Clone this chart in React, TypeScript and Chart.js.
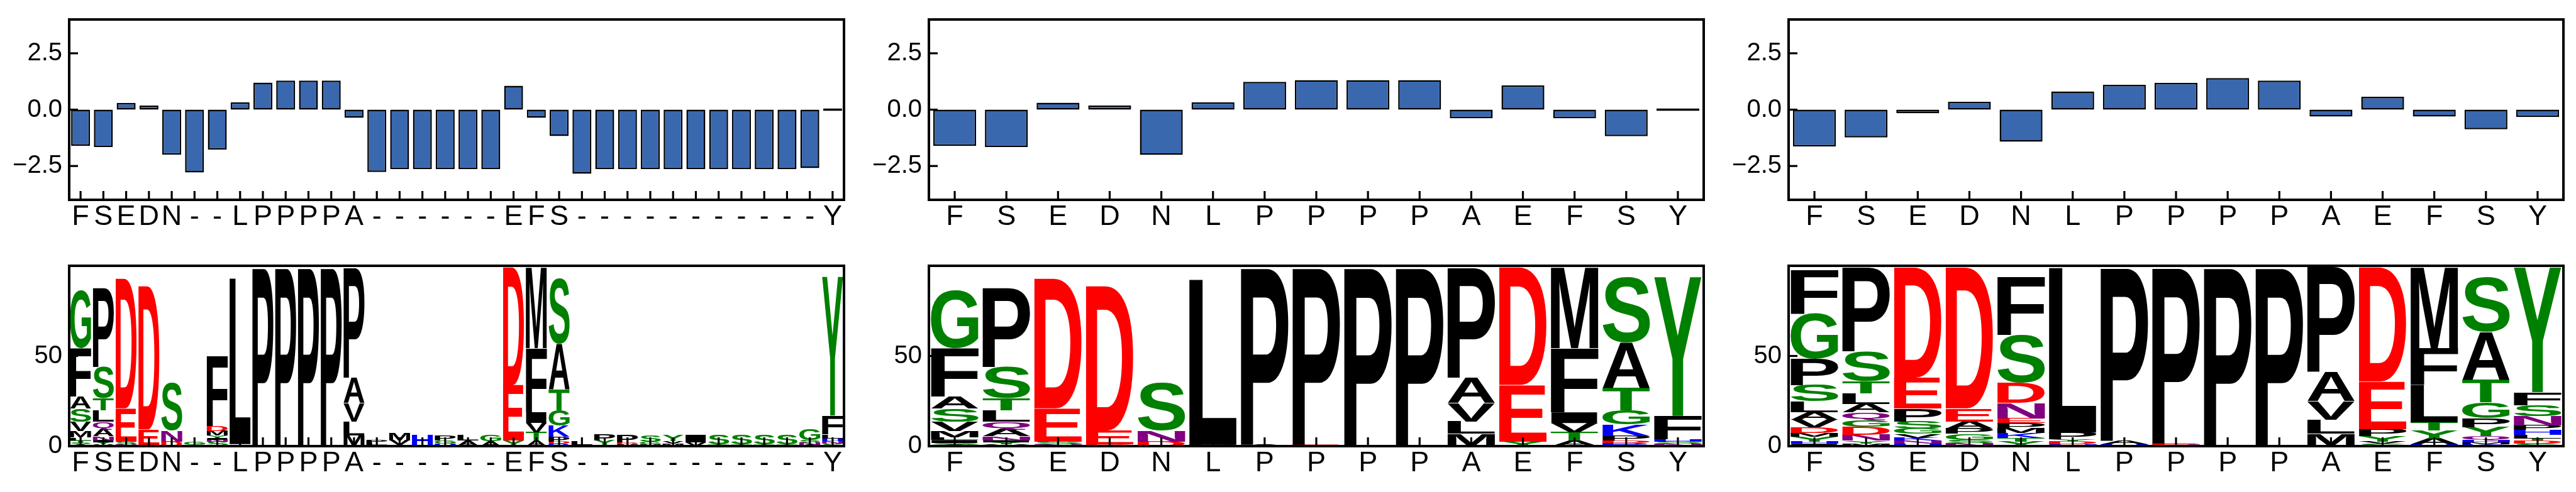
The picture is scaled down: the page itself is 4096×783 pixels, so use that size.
import React, { useEffect, useRef } from 'react';
import { Chart, registerables } from 'chart.js';

Chart.register(...registerables);

// ---------- data ----------
const LABELS_ALIGNED = ['F','S','E','D','N','-','-','L','P','P','P','P','A','-','-','-','-','-','-','E','F','S','-','-','-','-','-','-','-','-','-','-','-','Y'];
const LABELS_SEQ = ['F','S','E','D','N','L','P','P','P','P','A','E','F','S','Y'];

const SCORES_1 = [-1.6,-1.66,0.3,0.18,-2.0,-2.79,-1.77,0.33,1.2,1.29,1.29,1.29,-0.36,-2.77,-2.64,-2.64,-2.64,-2.64,-2.64,1.06,-0.36,-1.17,-2.84,-2.64,-2.64,-2.64,-2.64,-2.64,-2.64,-2.64,-2.64,-2.64,-2.59,0];
const SCORES_2 = [-1.61,-1.66,0.31,0.19,-2.01,0.33,1.23,1.31,1.31,1.31,-0.38,1.08,-0.38,-1.18,0];
const SCORES_3 = [-1.63,-1.23,-0.16,0.35,-1.42,0.81,1.1,1.19,1.4,1.29,-0.31,0.57,-0.31,-0.87,-0.33];

const SCORE_TICKS = [-2.5, 0, 2.5];
const LOGO_TICKS = [0, 50];

// logo stacks, listed top -> bottom, letter + height (%)
const LOGO_1 = [
  'G32.1 F26.8 A6.8 S7.3 V5.1 M3.5 L1.5 T1.5 S0.9 A0.9',
  'P43.9 S17.2 T6.7 L6.4 Q4.3 A3.8 N2.2 I1.2 Y1.2 V0.9',
  'D72 E18.4 S1.6 N1',
  'D79.5 E8.5 A0.8',
  'S26.4 N6 D2.6',
  'G2 S0.6',
  'F39 D2.7 M2.7 Y1.3 I0.9 N1.1 S2.5',
  'L92 P0.6 S0.5',
  'P98.6 A0.6',
  'P98.6 A0.6',
  'P98.6 A0.6',
  'P98.6 A0.6',
  'P61.2 A14 V10.3 L7.7 M6',
  'P1.8 L1.2 S0.6',
  'M3.8 V2.6 S0.6',
  'H6.4',
  'P2.6 G1.7 H1.5',
  'L3 A2.6 S0.5',
  'G3.8 A2.6',
  'D65.4 E30.8 Y3',
  'M45 F35.5 I6 V5.1 T4.7 A3',
  'S36.4 A25.3 T11.5 G8.5 K6.4 P2.6 D1.2 R1.3',
  'L2 P0.6',
  'P3.4 Y2.6 L0.6',
  'P4 D1 M1',
  'S3.8 G1.3 M1',
  'Y3.4 V1.3 M1.5',
  'I3.8 V2.2',
  'S5.4 T0.8',
  'S5.4 T1',
  'S5.4 T1',
  'S5.4 T1',
  'G5.7 S1.5 N1.2 A0.8',
  'Y77 F10.5 L2.4 H1.3 N1.5 S1.3',
];
const LOGO_2 = [
  'G32.1 F26.8 A6.8 S7.3 V5.1 M3.5 L1.5 I1.7 S1 A0.7',
  'P43.9 S17.2 T6.7 L6.4 Q4.3 A3.8 N2.2 I1.2 Y1.2 V0.9',
  'D72 E18.4 S1.6 N1',
  'D80.1 E7.7 D1',
  'S26.4 N6 D2.6',
  'L91.6 P0.8',
  'P98.4 A0.8',
  'P98.4 E0.8',
  'P99.2',
  'P99.2',
  'P61.2 A14 V10.3 L6.9 M6.8',
  'D65.2 E31.4 Y2.6',
  'M44.9 F35.5 I6 V5.1 T4.7 A3',
  'S36.5 A25.2 T12.4 G7.7 K6.4 P2.6 D1.3 R1.7',
  'Y77.1 F12.9 H1.3 S1.3 N1.3',
];
const LOGO_3 = [
  'F24.4 G25.2 P14.6 S9 L5.9 A4.3 V4.3 D2.9 M2.2 Y2.6 H1.3 I1.3',
  'P46.6 S16.7 T6.8 L5.6 A4.7 Q4.3 G3.8 D4.3 N3.4 Y1.5 M1.5',
  'D61.2 E17 P7.3 S3.9 G3 V2.1 K1.7 N1.7 H1.3',
  'D78.2 E7.3 A3.9 P3 G3.4 S1.7 N1.7',
  'F32.2 S26.6 D11 N8.6 E2.6 P3 M2.5 K2.6 T2.1 Y2.6',
  'L91.5 P3.8 Y1 D1.7 H1',
  'P96.2 A2.1 H0.9',
  'P97.7 E0.8 H0.7',
  'P99.2',
  'P98.7 N0.5',
  'P58.2 A16.2 V10.3 L7.7 M6.4 G0.4',
  'D63.3 E26.5 P3.8 Y3 V1.3 S1.3',
  'M44.9 F20.5 L20.5 T4.7 Y4.3 A3.4 H0.9',
  'S30.5 A26.5 T12.4 G8.6 P5.1 Y5.1 Q2.2 H1.3 M1 K1',
  'Y69.2 F7.3 S6 N5.2 P2.5 H2.6 L2.1 T1.3 D1.7 S1.3',
];

// ---------- styling / layout ----------
const SC = 4096 / 5933;
const FONT = '"Liberation Sans", Arial, Helvetica, sans-serif';
const BAR_BLUE = '#3a68ae';
const Y_AXIS_W = 110;
const X_AXIS_H = 60;
const RIGHT_PAD = 12;
const PLOT_W = Math.round(1784 * SC);
const PLOT_LEFTS_REF = [160, 2140, 4119];
const ROW_CANVAS_TOP = [0, 392];
const ROW_PAD_TOP = 21;
const PLOT_H = 297;
const TICK_LEN = 14;

function letterColor(ch: string): string {
  if ('GSTYC'.includes(ch)) return '#008000';
  if ('NQ'.includes(ch)) return '#800080';
  if ('KRH'.includes(ch)) return '#0000ff';
  if ('DE'.includes(ch)) return '#ff0000';
  return '#000000';
}

function parseStack(s: string): { ch: string; h: number }[] {
  // returns bottom -> top
  return s.trim().split(/\s+/).map(t => ({ ch: t[0], h: parseFloat(t.slice(1)) })).reverse();
}

const glyphCache: Record<string, any> = {};
function drawGlyph(ctx: CanvasRenderingContext2D, ch: string, color: string, x0: number, x1: number, yTop: number, yBot: number) {
  if (yBot - yTop < 0.3) return;
  ctx.save();
  ctx.font = `bold 200px ${FONT}`;
  let m = glyphCache[ch];
  if (!m) {
    const mt = ctx.measureText(ch);
    m = { l: mt.actualBoundingBoxLeft, r: mt.actualBoundingBoxRight, a: mt.actualBoundingBoxAscent, d: mt.actualBoundingBoxDescent };
    glyphCache[ch] = m;
  }
  const gw = m.l + m.r;
  const gh = m.a + m.d;
  ctx.translate(x0, yTop);
  ctx.scale((x1 - x0) / gw, (yBot - yTop) / gh);
  ctx.fillStyle = color;
  ctx.textAlign = 'left';
  ctx.textBaseline = 'alphabetic';
  ctx.fillText(ch, m.l, m.a);
  ctx.restore();
}

const decorPlugin = {
  id: 'decor',
  afterDatasetsDraw(chart: any, _args: any, opts: any) {
    const ctx: CanvasRenderingContext2D = chart.ctx;
    const a = chart.chartArea;
    if (opts && opts.layers) {
      const layers = opts.layers as { ch: string; h: number }[][][];
      chart.data.datasets.forEach((_ds: any, k: number) => {
        const meta = chart.getDatasetMeta(k);
        meta.data.forEach((el: any, i: number) => {
          const item = layers[i][k];
          if (!item) return;
          const p = el.getProps(['x', 'y', 'base', 'width'], true);
          const top = Math.min(p.y, p.base);
          const bot = Math.max(p.y, p.base);
          drawGlyph(ctx, item.ch, letterColor(item.ch), p.x - p.width / 2, p.x + p.width / 2, top, bot);
        });
      });
    }
    ctx.save();
    ctx.strokeStyle = '#000';
    ctx.lineCap = 'butt';
    ctx.lineWidth = 3.2;
    const xs = chart.scales.x;
    xs.ticks.forEach((_t: any, i: number) => {
      const px = xs.getPixelForTick(i);
      ctx.beginPath();
      ctx.moveTo(px, a.bottom);
      ctx.lineTo(px, a.bottom - TICK_LEN);
      ctx.stroke();
    });
    const ys = chart.scales.y;
    ys.ticks.forEach((t: any) => {
      const py = ys.getPixelForValue(t.value);
      ctx.beginPath();
      ctx.moveTo(a.left, py);
      ctx.lineTo(a.left + TICK_LEN, py);
      ctx.stroke();
    });
    ctx.lineWidth = 4;
    ctx.strokeRect(a.left, a.top, a.right - a.left, a.bottom - a.top);
    ctx.restore();
  },
};

function fmtScore(v: number): string {
  if (v === 0) return '0.0';
  return (v < 0 ? '\u2212' : '') + Math.abs(v).toFixed(1);
}

function baseScales(yMin: number, yMax: number, yTicks: number[], yFmt: (v: number) => string, stacked: boolean) {
  return {
    x: {
      type: 'category',
      stacked,
      offset: true,
      grid: { display: false, drawTicks: false },
      border: { display: false },
      ticks: { color: '#000', font: { family: FONT, size: 45, lineHeight: 1 }, padding: 5, maxRotation: 0, minRotation: 0, autoSkip: false },
      afterFit: (s: any) => { s.height = X_AXIS_H; },
    },
    y: {
      type: 'linear',
      stacked,
      min: yMin,
      max: yMax,
      grid: { display: false, drawTicks: false },
      border: { display: false },
      afterBuildTicks: (s: any) => { s.ticks = yTicks.map(v => ({ value: v })); },
      ticks: { color: '#000', font: { family: FONT, size: 40, lineHeight: 1 }, padding: 11, callback: (v: any) => yFmt(Number(v)) },
      afterFit: (s: any) => { s.width = Y_AXIS_W; },
    },
  };
}

function commonOptions(scales: any, decor: any) {
  return {
    responsive: false,
    animation: false,
    events: [],
    layout: { padding: { top: ROW_PAD_TOP, right: RIGHT_PAD, left: 0, bottom: 0 } },
    plugins: { legend: { display: false }, tooltip: { enabled: false }, title: { display: false }, decor },
    scales,
  };
}

function scoreConfig(labels: string[], scores: number[]) {
  return {
    type: 'bar',
    data: {
      labels,
      datasets: [{
        data: scores,
        backgroundColor: BAR_BLUE,
        borderColor: '#000',
        borderWidth: 2.5,
        borderSkipped: false,
        barPercentage: 0.83,
        categoryPercentage: 1,
        minBarLength: 4,
      }],
    },
    options: commonOptions(baseScales(-4, 4, SCORE_TICKS, fmtScore, false), {}),
    plugins: [decorPlugin],
  };
}

function logoConfig(labels: string[], logo: string[]) {
  const layers = logo.map(parseStack);
  const depth = Math.max(...layers.map(l => l.length));
  const datasets = [] as any[];
  for (let k = 0; k < depth; k++) {
    datasets.push({
      data: layers.map(l => (l[k] ? l[k].h : 0)),
      backgroundColor: 'rgba(0,0,0,0)',
      borderWidth: 0,
      barPercentage: 0.92,
      categoryPercentage: 1,
      stack: 'logo',
    });
  }
  return {
    type: 'bar',
    data: { labels, datasets },
    options: commonOptions(baseScales(0, 100, LOGO_TICKS, (v: number) => String(v), true), { layers }),
    plugins: [decorPlugin],
  };
}

function Panel({ config, left, top }: { config: any; left: number; top: number }) {
  const ref = useRef<HTMLCanvasElement | null>(null);
  const width = Y_AXIS_W + PLOT_W + RIGHT_PAD;
  const height = ROW_PAD_TOP + PLOT_H + X_AXIS_H;
  useEffect(() => {
    if (!ref.current) return;
    const chart = new Chart(ref.current, config);
    return () => chart.destroy();
  }, [config]);
  return (
    <canvas
      ref={ref}
      width={width}
      height={height}
      style={{ position: 'absolute', left, top, width, height }}
    />
  );
}

const PANELS = [
  { cfg: scoreConfig(LABELS_ALIGNED, SCORES_1), col: 0, row: 0 },
  { cfg: scoreConfig(LABELS_SEQ, SCORES_2), col: 1, row: 0 },
  { cfg: scoreConfig(LABELS_SEQ, SCORES_3), col: 2, row: 0 },
  { cfg: logoConfig(LABELS_ALIGNED, LOGO_1), col: 0, row: 1 },
  { cfg: logoConfig(LABELS_SEQ, LOGO_2), col: 1, row: 1 },
  { cfg: logoConfig(LABELS_SEQ, LOGO_3), col: 2, row: 1 },
];

export default function App() {
  return (
    <div style={{ position: 'fixed', left: 0, top: 0, width: 4096, height: 783, background: '#fff', overflow: 'hidden' }}>
      {PANELS.map((p, i) => (
        <Panel
          key={i}
          config={p.cfg}
          left={Math.round(PLOT_LEFTS_REF[p.col] * SC) - Y_AXIS_W}
          top={ROW_CANVAS_TOP[p.row]}
        />
      ))}
    </div>
  );
}
